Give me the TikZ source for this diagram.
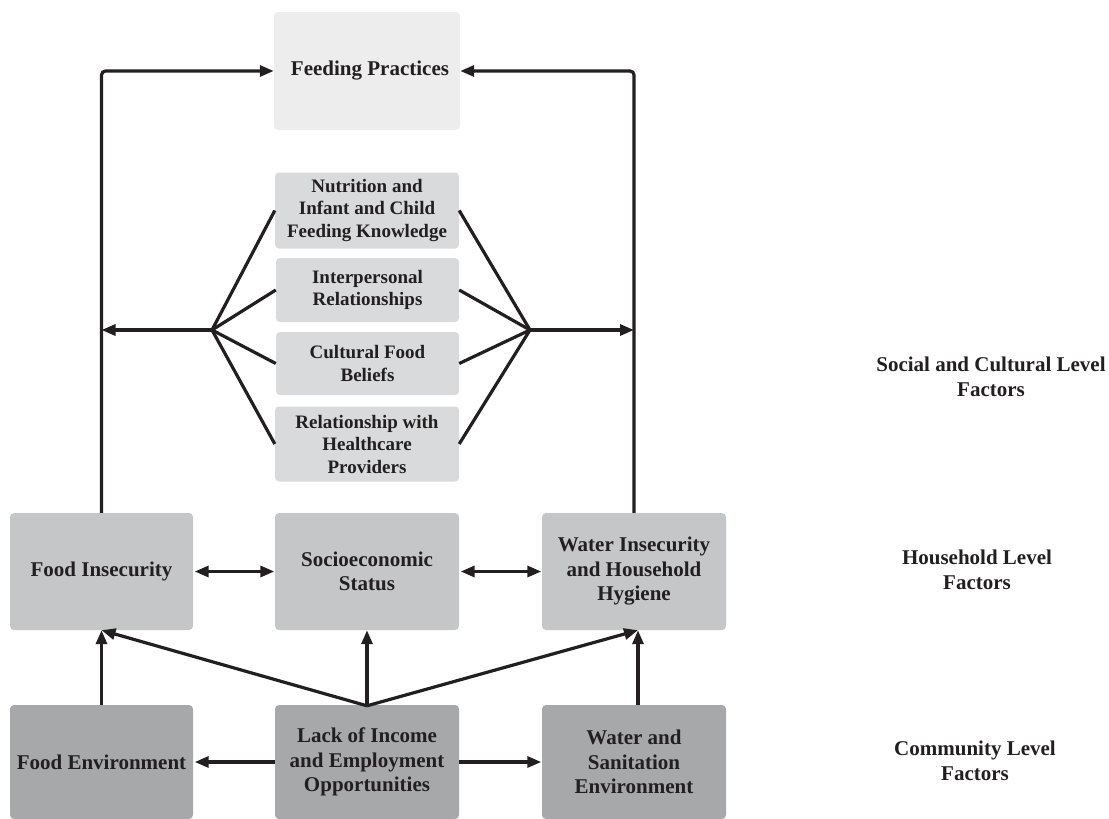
\documentclass[tikz,border=0pt]{standalone}
\usepackage{fontspec}
\setmainfont{Liberation Serif}
\usetikzlibrary{arrows.meta}
\definecolor{ink}{HTML}{231F20}
\definecolor{topfill}{HTML}{EDEDED}
\definecolor{midfill}{HTML}{D9DADB}
\definecolor{housefill}{HTML}{C5C6C8}
\definecolor{commfill}{HTML}{A7A8AA}
\tikzset{
  box/.style={rectangle, rounded corners=4pt, inner sep=0pt, align=center, text=ink,
    font=\fontsize{21}{24.5}\selectfont\bfseries},
  smallbox/.style={box, fill=midfill, font=\fontsize{19}{22.5}\selectfont\bfseries},
  link/.style={draw=ink, line width=3.2pt},
  arr/.style={link, -{Triangle[length=14pt,width=11pt]}},
  darr/.style={link, {Triangle[length=14pt,width=11pt]}-{Triangle[length=14pt,width=11pt]}},
  lvl/.style={align=center, text=ink, font=\fontsize{21}{24.5}\selectfont\bfseries}
}
\begin{document}
\begin{tikzpicture}[x=1pt,y=-1pt]
\useasboundingbox (0,0) rectangle (1109,819);
% top
\node[box, fill=topfill, minimum width=186pt, minimum height=118pt] (fp) at (367,71) {\hspace*{6pt}Feeding Practices};
% social and cultural
\node[smallbox, minimum width=184pt, minimum height=76pt] (nk) at (367,210.5) {Nutrition and\\Infant and Child\\Feeding Knowledge};
\node[smallbox, minimum width=183pt, minimum height=64pt] (ir) at (367.5,290) {Interpersonal\\Relationships};
\node[smallbox, minimum width=183pt, minimum height=63pt] (cf) at (367.5,363.5) {Cultural Food\\Beliefs};
\node[smallbox, minimum width=184pt, minimum height=75pt] (rh) at (367,444) {Relationship with\\Healthcare\\Providers};
% household
\node[box, fill=housefill, minimum width=183pt, minimum height=117pt] (fi) at (101.5,571.5) {Food Insecurity};
\node[box, fill=housefill, minimum width=184pt, minimum height=117pt] (ses) at (367,571.5) {Socioeconomic\\Status};
\node[box, fill=housefill, minimum width=184pt, minimum height=117pt] (wi) at (634,571.5) {Water Insecurity\\and Household\\Hygiene};
% community
\node[box, fill=commfill, minimum width=183pt, minimum height=114pt] (fe) at (101.5,762) {Food Environment};
\node[box, fill=commfill, minimum width=184pt, minimum height=114pt] (lie) at (367,762) {Lack of Income\\and Employment\\Opportunities};
\node[box, fill=commfill, minimum width=184pt, minimum height=114pt] (ws) at (634,762) {Water and\\Sanitation\\Environment};
% level labels
\node[lvl] (l1) at (991,377) {Social and Cultural Level\\Factors};
\node[lvl] (l2) at (977,570) {Household Level\\Factors};
\node[lvl] (l3) at (975,761) {Community Level\\Factors};
% connectors to feeding practices
\draw[arr, rounded corners=4pt] (fi.north) |- (fp.west);
\draw[arr, rounded corners=4pt] (wi.north) |- (fp.east);
% fans
\coordinate (L) at (212,330);
\coordinate (R) at (530,330);
\foreach \b in {nk,ir,cf,rh}{
  \draw[link] (L) -- (\b.west);
  \draw[link] (R) -- (\b.east);
}
\draw[arr] (L) -- (fi.north |- L);
\draw[arr] (R) -- (wi.north |- R);
% household double arrows
\draw[darr, shorten <=1.5pt, shorten >=0.5pt] (fi.east) -- (ses.west);
\draw[darr, shorten <=1.5pt, shorten >=0.5pt] (ses.east) -- (wi.west);
% community arrows
\draw[arr, shorten >=1.5pt] (lie.west) -- (fe.east);
\draw[arr, shorten >=0.5pt] (lie.east) -- (ws.west);
\draw[arr] (fe.north) -- (fi.south);
\draw[arr] ([xshift=4pt]ws.north) -- ([xshift=4pt]wi.south);
\coordinate (lt) at ([yshift=-1pt]lie.north);
\draw[arr] (lt) -- (ses.south);
\draw[arr] (lt) -- (fi.south);
\draw[arr] (lt) -- ([xshift=4pt]wi.south);
\end{tikzpicture}
\end{document}
